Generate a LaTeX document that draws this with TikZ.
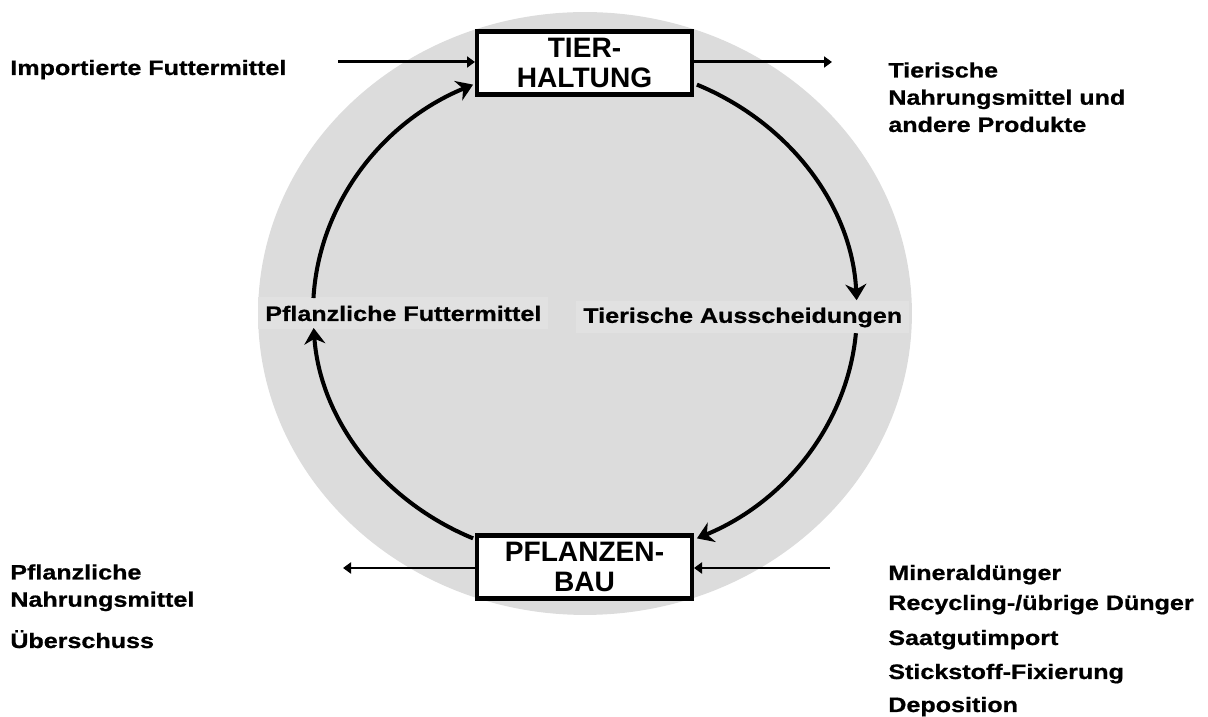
\documentclass[tikz,border=0pt]{standalone}
\usepackage{fontspec}
\setmainfont{Liberation Sans}[FakeStretch=1.2, BoldFeatures={FakeBold=0.8}]
\newfontfamily\kastenfont{Liberation Sans}
\usetikzlibrary{arrows.meta}
\definecolor{kreisgrau}{RGB}{220,220,220}
\definecolor{etikettgrau}{RGB}{225,225,225}
\tikzset{
  kasten/.style={draw, line width=2.3pt, fill=white, minimum width=4.3cm,
    minimum height=1.26cm, align=center, inner sep=0pt,
    font=\kastenfont\bfseries\fontsize{16}{17.6}\selectfont},
  beschriftung/.style={inner sep=0pt, align=left,
    font=\bfseries\fontsize{11.9}{15.5}\selectfont},
  etikett/.style={fill=etikettgrau, inner xsep=0.14cm, inner ysep=0pt,
    minimum height=0.64cm, font=\bfseries\fontsize{11.9}{15.5}\selectfont},
  kreislauf/.style={line width=2.3pt, -{Stealth[length=0.32cm,width=0.42cm]}},
  fluss/.style={line width=1.7pt, -{Triangle[length=0.16cm,width=0.22cm]}},
}
\begin{document}
\begin{tikzpicture}[x=0.02cm,y=0.02cm]
  \useasboundingbox (0,0) rectangle (1208,717);
  % grauer Hintergrund
  \fill[kreisgrau] (585,403.5) ellipse [x radius=6.54cm, y radius=6.03cm];
  \coordinate (mitte) at (585,405.5);

  % Etiketten im Kreis
  \node[etikett, anchor=west] (futter) at (258,403.5) {Pflanzliche Futtermittel};
  \node[etikett, anchor=west] (ausscheidung) at (576,399.5) {Tierische Ausscheidungen};

  % Kreislauf
  \coordinate (obenrechts) at ([shift={(65.7:5.44cm and 4.98cm)}]mitte);
  \coordinate (untenrechts) at ([shift={(-5:5.44cm and 4.98cm)}]mitte);
  \coordinate (untenlinks) at ([shift={(245.7:5.44cm and 4.98cm)}]mitte);
  \coordinate (obenlinks) at ([shift={(176.9:5.44cm and 4.98cm)}]mitte);
  \draw[kreislauf] (obenrechts) arc[start angle=65.7, end angle=2.6, x radius=5.44cm, y radius=4.98cm];
  \draw[kreislauf] (untenrechts) arc[start angle=-5, end angle=-65.7, x radius=5.44cm, y radius=4.98cm];
  \draw[kreislauf] (untenlinks) arc[start angle=245.7, end angle=183.8, x radius=5.44cm, y radius=4.98cm];
  \draw[kreislauf] (obenlinks) arc[start angle=176.9, end angle=114.3, x radius=5.44cm, y radius=4.98cm];

  % Kaesten
  \node[kasten] (tier) at (584.5,654) {TIER-\\HALTUNG};
  \node[kasten] (pflanzen) at (584.5,150) {PFLANZEN-\\BAU};

  % Texte links und rechts
  \node[beschriftung, anchor=base west] (import) at (10,642) {Importierte Futtermittel};
  \node[beschriftung, anchor=north west] (produkte) at (888,655) {Tierische\\Nahrungsmittel und\\andere Produkte};
  \node[beschriftung, anchor=north west] (nahrung) at (10,153) {Pflanzliche\\Nahrungsmittel};
  \node[beschriftung, anchor=base west] (ueberschuss) at (10,69) {Überschuss};
  \node[beschriftung, anchor=base west] (mineral) at (888,137) {Mineraldünger};
  \node[beschriftung, anchor=base west] (recycling) at (888,107) {Recycling-/übrige Dünger};
  \node[beschriftung, anchor=base west] (saatgut) at (888,72) {Saatgutimport};
  \node[beschriftung, anchor=base west] (fixierung) at (888,38) {Stickstoff-Fixierung};
  \node[beschriftung, anchor=base west] (deposition) at (888,5) {Deposition};

  % Zu- und Abfluesse
  \coordinate (importein) at (338,655);
  \coordinate (tieraus) at (832,655);
  \coordinate (pflanzenaus) at (343,149);
  \coordinate (duengerein) at (830,149);
  \draw[fluss] (importein) -- (tier.west |- importein);
  \draw[fluss] (tier.east |- tieraus) -- (tieraus);
  \draw[fluss] (pflanzen.west |- pflanzenaus) -- (pflanzenaus);
  \draw[fluss] (duengerein) -- (pflanzen.east |- duengerein);
\end{tikzpicture}
\end{document}
